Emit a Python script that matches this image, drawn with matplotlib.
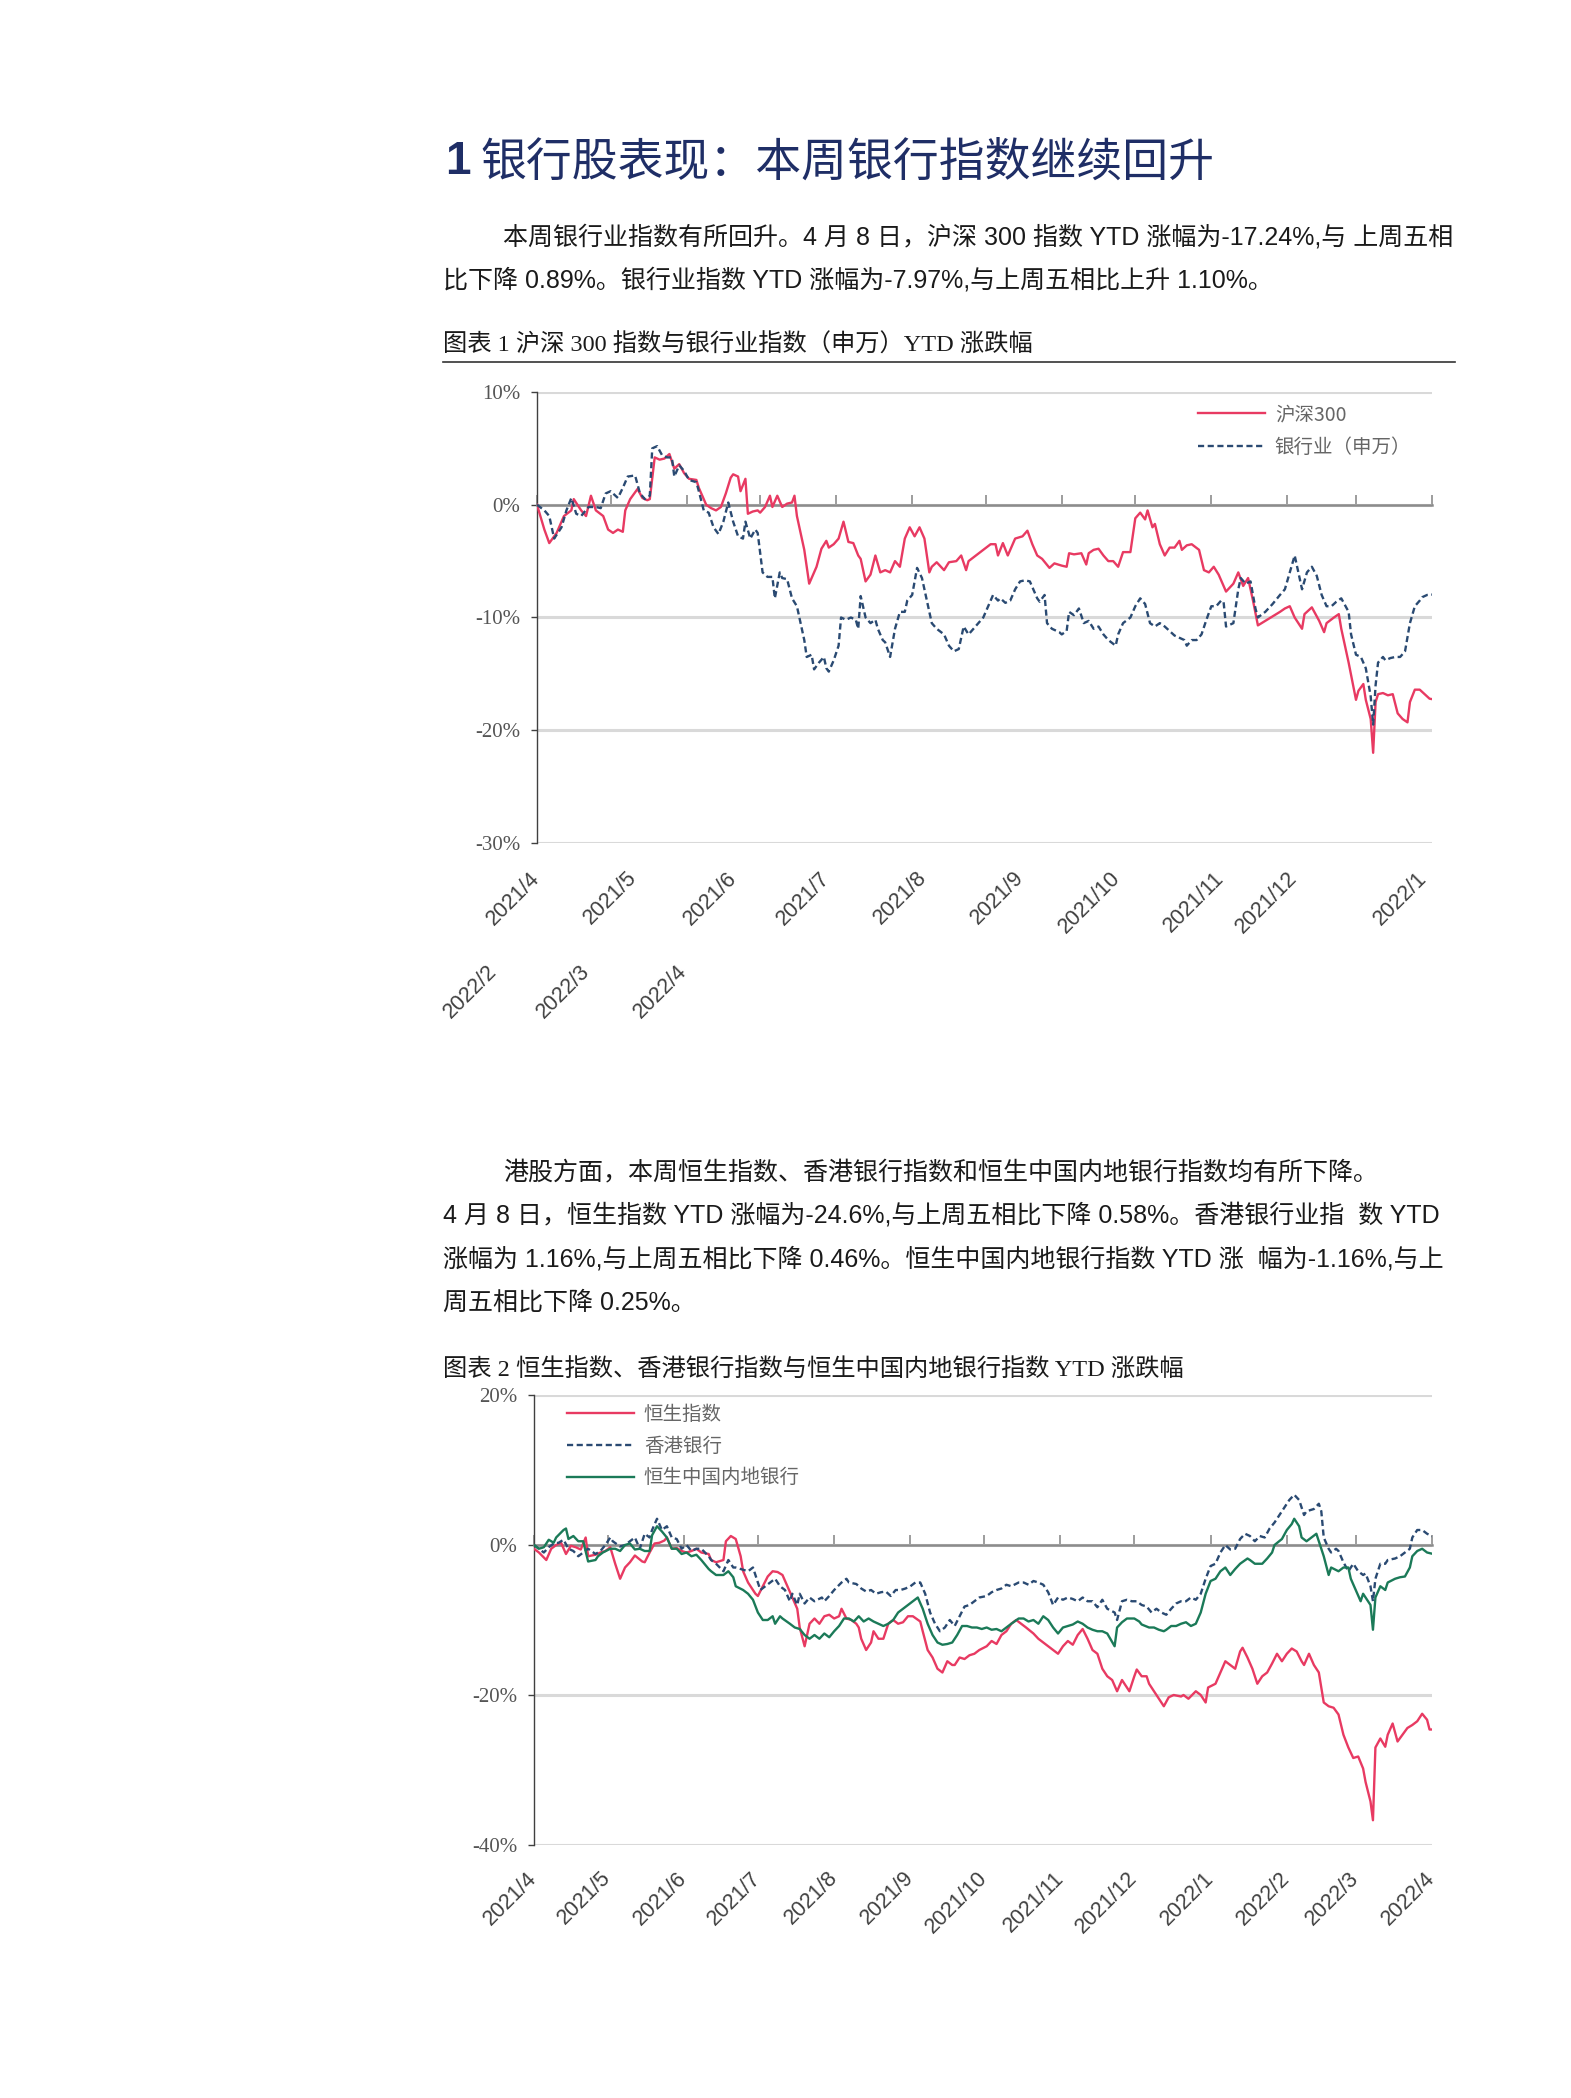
import matplotlib
matplotlib.use("Agg")
import matplotlib.pyplot as plt
import matplotlib.dates as mdates
from matplotlib.lines import Line2D
import pandas as pd

# ---- data: (days after 2021-04-08, YTD change in %) ----
start = pd.Timestamp("2021-04-08")

hs300 = [(0, 0.0), (3, -2.2), (5, -3.4), (8, -2.5), (11, -1.0), (14, -0.5), (15, 0.5), (18, -0.5), (20, -1.0), (22, 0.8),
         (24, -0.5), (27, -1.0), (29, -2.2), (31, -2.5), (33, -2.2), (35, -2.4), (36, -0.5), (38, 0.5), (41, 1.4), (43, 0.6),
         (45, 0.4), (46, 0.5), (48, 4.2), (50, 4.0), (52, 4.1), (54, 4.5), (56, 3.2), (58, 3.6), (60, 2.8), (62, 2.3),
         (65, 2.2), (66, 1.5), (69, 0.0), (71, -0.3), (73, -0.5), (75, -0.2), (77, 1.0), (79, 2.4), (80, 2.7), (82, 2.5),
         (83, 1.2), (85, 2.3), (86, -0.8), (88, -0.6), (90, -0.5), (91, -0.7), (93, -0.2), (95, 0.8), (96, -0.2), (98, 0.8),
         (100, -0.2), (102, 0.1), (104, 0.2), (105, 0.8), (106, -1.0), (109, -4.0), (111, -7.0), (113, -6.0), (114, -5.5),
         (116, -3.9), (118, -3.2), (119, -3.8), (121, -3.5), (123, -3.0), (125, -1.5), (127, -3.3), (129, -3.4), (131, -4.5),
         (132, -4.8), (134, -6.8), (136, -6.2), (138, -4.5), (140, -6.0), (142, -5.8), (144, -6.0), (146, -5.0), (148, -5.5),
         (150, -3.0), (152, -2.0), (154, -2.8), (156, -2.0), (158, -3.0), (160, -6.0), (161, -5.5), (163, -5.1), (166, -5.8),
         (168, -5.1), (171, -5.0), (173, -4.5), (175, -5.8), (176, -5.0), (179, -4.5), (182, -4.0), (185, -3.5), (187, -3.5),
         (188, -4.5), (190, -3.4), (192, -4.5), (193, -4.0), (195, -3.0), (198, -2.8), (200, -2.3), (202, -3.5), (204, -4.5),
         (206, -4.8), (209, -5.6), (211, -5.2), (214, -5.4), (216, -5.5), (217, -4.3), (219, -4.4), (222, -4.3), (224, -5.3),
         (225, -4.3), (227, -4.0), (229, -3.9), (231, -4.5), (233, -5.0), (235, -5.0), (237, -5.5), (239, -4.2), (242, -4.2),
         (244, -1.2), (246, -0.7), (248, -1.3), (249, -0.5), (251, -2.0), (252, -1.7), (254, -3.5), (256, -4.5), (258, -3.8),
         (260, -3.8), (262, -3.2), (263, -4.0), (265, -3.6), (267, -3.5), (270, -4.0), (272, -5.8), (274, -6.0), (276, -5.5),
         (278, -6.2), (280, -7.2), (281, -7.7), (284, -7.0), (286, -6.0), (288, -7.2), (290, -6.5), (292, -8.5), (294, -10.7),
         (297, -10.3), (300, -9.9), (303, -9.5), (305, -9.2), (307, -9.0), (309, -10.0), (312, -11.0), (313, -9.7), (316, -9.1),
         (319, -10.3), (321, -11.3), (322, -10.5), (325, -10.0), (327, -9.7), (328, -11.0), (331, -14.0), (334, -17.3),
         (335, -16.5), (337, -15.9), (338, -17.3), (340, -19.0), (341, -22.0), (342, -17.5), (343, -16.8), (345, -16.7),
         (347, -16.9), (349, -16.8), (351, -18.5), (353, -19.0), (355, -19.3), (356, -17.5), (358, -16.4), (360, -16.4),
         (361, -16.6), (364, -17.2), (365, -17.24)]

bank_sw = [(0, 0.0), (3, -0.5), (5, -1.0), (7, -3.0), (10, -2.0), (12, -0.5), (14, 0.6), (16, -0.8), (18, -1.0), (21, -0.2),
           (24, -0.2), (26, -0.3), (28, 1.0), (30, 1.2), (33, 0.6), (35, 1.5), (37, 2.5), (40, 2.6), (42, 1.0), (44, 0.5),
           (46, 0.8), (47, 5.0), (49, 5.2), (51, 4.4), (53, 4.2), (55, 4.2), (56, 2.5), (58, 3.5), (60, 3.0), (62, 2.2),
           (65, 2.0), (66, 1.2), (68, -0.5), (70, -0.7), (72, -2.0), (74, -2.6), (76, -1.5), (78, 0.2), (80, -1.5), (82, -2.8),
           (84, -3.0), (85, -1.5), (87, -3.0), (89, -2.2), (90, -2.5), (92, -6.0), (94, -6.4), (96, -6.4), (97, -8.3),
           (99, -6.0), (100, -6.5), (102, -6.6), (104, -8.3), (106, -9.0), (107, -10.0), (109, -12.0), (110, -13.5),
           (112, -13.3), (113, -14.6), (115, -14.0), (117, -13.5), (118, -14.5), (119, -14.8), (121, -13.8), (123, -12.5),
           (124, -10.0), (126, -10.2), (128, -10.0), (130, -10.2), (131, -11.0), (132, -8.1), (134, -10.0), (136, -10.5),
           (138, -10.2), (139, -11.0), (141, -12.0), (142, -12.2), (144, -13.5), (146, -11.0), (148, -9.5), (150, -9.5),
           (151, -8.5), (153, -8.0), (155, -5.6), (157, -6.5), (160, -9.5), (161, -10.5), (163, -11.0), (166, -11.5),
           (168, -12.5), (170, -13.0), (172, -12.8), (174, -10.8), (176, -11.5), (178, -11.0), (180, -10.5), (182, -10.0),
           (184, -9.0), (186, -8.0), (188, -8.5), (189, -8.3), (191, -8.7), (193, -8.5), (195, -7.5), (197, -6.8), (199, -6.7),
           (201, -6.8), (204, -8.3), (205, -8.6), (207, -8.0), (208, -10.5), (210, -11.0), (213, -11.3), (214, -11.5),
           (216, -11.2), (217, -9.5), (219, -9.8), (221, -9.2), (223, -10.5), (225, -10.3), (227, -11.0), (229, -10.8),
           (231, -11.5), (233, -12.0), (236, -12.5), (237, -11.5), (239, -10.5), (242, -10.0), (244, -9.0), (246, -8.3),
           (248, -8.8), (250, -10.5), (252, -10.8), (254, -10.5), (256, -10.8), (258, -11.2), (260, -11.6), (262, -11.8),
           (264, -12.0), (265, -12.5), (267, -12.0), (269, -12.0), (271, -11.5), (273, -10.2), (275, -9.0), (277, -9.0),
           (279, -8.5), (280, -8.6), (281, -10.8), (284, -10.5), (286, -7.5), (287, -6.5), (289, -7.0), (291, -6.8),
           (293, -9.2), (294, -10.0), (297, -9.5), (300, -8.8), (303, -8.0), (305, -7.5), (307, -6.0), (309, -4.5),
           (310, -5.5), (312, -7.5), (314, -6.0), (316, -5.5), (318, -6.3), (320, -8.0), (322, -9.0), (324, -9.0),
           (326, -8.6), (328, -8.3), (331, -9.5), (332, -11.5), (334, -13.3), (336, -13.5), (338, -14.5), (340, -17.0),
           (341, -19.5), (342, -16.0), (343, -14.0), (345, -13.5), (346, -13.8), (348, -13.6), (350, -13.5), (352, -13.5),
           (354, -13.0), (356, -10.5), (358, -9.0), (360, -8.5), (361, -8.2), (363, -8.0), (365, -7.97)]

hsi = [(0, -0.5), (2, -1.0), (5, -2.0), (7, -0.5), (9, 0.0), (11, 0.3), (13, -1.2), (15, -0.1), (17, -0.3), (19, -0.6),
       (21, 1.0), (22, -1.5), (25, -1.3), (27, -1.0), (29, -0.8), (31, -0.3), (33, -2.5), (35, -4.5), (37, -3.0), (39, -2.3),
       (41, -1.4), (44, -2.2), (45, -2.3), (47, -1.0), (49, 0.2), (51, 0.3), (53, 0.6), (54, 1.0), (56, -0.5), (58, -0.4),
       (60, -0.8), (62, -1.0), (64, -0.8), (66, -0.5), (68, -1.0), (71, -1.2), (72, -2.0), (74, -2.3), (77, -2.0), (78, 0.5),
       (80, 1.2), (82, 0.8), (84, -1.5), (85, -3.5), (87, -5.0), (90, -6.5), (91, -6.8), (93, -5.5), (95, -4.2), (97, -3.5),
       (99, -3.6), (101, -4.0), (103, -5.5), (105, -7.0), (107, -8.5), (108, -11.0), (110, -13.5), (112, -10.5), (114, -9.8),
       (116, -10.5), (118, -9.5), (120, -9.3), (122, -9.8), (124, -9.5), (125, -8.5), (127, -9.8), (129, -10.0),
       (131, -10.5), (132, -11.0), (133, -12.5), (135, -14.0), (137, -13.0), (138, -11.5), (140, -12.5), (142, -12.5),
       (144, -10.5), (146, -10.0), (148, -10.5), (150, -10.3), (152, -9.5), (154, -9.5), (157, -10.2), (158, -11.5),
       (160, -14.0), (162, -15.0), (164, -16.5), (166, -17.0), (168, -15.5), (170, -16.0), (171, -16.0), (173, -15.0),
       (175, -15.2), (177, -14.7), (179, -14.5), (181, -14.0), (184, -13.5), (186, -12.8), (188, -13.2), (190, -12.0),
       (192, -11.5), (194, -10.5), (196, -10.0), (198, -10.5), (200, -11.0), (203, -11.8), (205, -12.5), (207, -13.0),
       (209, -13.5), (211, -14.0), (213, -14.5), (215, -13.5), (217, -12.8), (219, -13.3), (221, -12.0), (223, -11.2),
       (225, -12.5), (227, -14.0), (229, -14.5), (231, -16.5), (233, -17.5), (235, -18.0), (237, -19.5), (239, -18.0),
       (240, -18.5), (242, -19.5), (244, -17.5), (245, -16.6), (247, -17.5), (249, -17.5), (250, -18.5), (252, -19.5),
       (254, -20.5), (256, -21.5), (258, -20.3), (260, -20.0), (263, -20.2), (264, -20.0), (266, -20.5), (269, -19.5),
       (271, -20.0), (273, -21.0), (274, -19.0), (277, -18.5), (279, -17.0), (281, -15.5), (283, -16.0), (285, -16.5),
       (287, -14.2), (288, -13.7), (290, -15.0), (292, -16.5), (294, -18.5), (296, -17.5), (298, -17.0), (300, -15.8),
       (302, -14.5), (304, -15.5), (306, -14.5), (308, -13.8), (310, -14.2), (312, -15.5), (313, -16.0), (315, -14.5),
       (317, -16.0), (319, -17.0), (321, -21.0), (323, -21.5), (325, -21.7), (327, -22.6), (329, -25.3), (331, -27.0),
       (333, -28.4), (335, -28.2), (337, -29.8), (338, -31.6), (340, -34.2), (341, -36.7), (342, -27.0), (344, -25.8),
       (346, -26.9), (347, -25.3), (349, -23.8), (351, -26.2), (353, -25.3), (355, -24.4), (357, -24.0), (359, -23.5),
       (361, -22.5), (363, -23.3), (364, -24.6), (365, -24.6)]

hk_bank = [(0, 0.0), (2, -0.5), (4, -1.0), (6, -0.3), (8, 0.2), (10, 0.3), (12, 0.7), (14, -0.5), (16, -0.8), (18, -1.5),
           (20, -1.0), (22, -0.5), (25, -1.2), (27, -0.8), (29, 0.0), (31, 1.0), (32, 0.5), (35, -0.2), (37, 0.0), (39, 0.5),
           (41, 1.0), (43, -0.5), (45, 1.5), (47, 1.0), (48, 2.0), (50, 3.5), (52, 2.0), (54, 2.5), (56, 1.0), (58, 0.8),
           (60, -0.5), (62, 0.0), (64, -0.8), (66, -0.5), (68, -0.5), (71, -1.5), (72, -2.0), (74, -2.5), (77, -3.5),
           (79, -2.0), (81, -3.0), (82, -3.0), (85, -3.3), (87, -3.5), (89, -3.0), (91, -5.0), (92, -6.0), (94, -5.5),
           (96, -5.0), (98, -4.5), (100, -5.5), (102, -6.0), (104, -7.5), (105, -6.5), (107, -8.0), (108, -6.5), (110, -7.8),
           (112, -7.0), (114, -7.5), (117, -7.0), (118, -7.5), (120, -6.8), (122, -6.0), (125, -5.0), (127, -4.5),
           (128, -5.0), (131, -5.2), (133, -5.8), (135, -6.2), (137, -6.0), (139, -6.5), (141, -6.3), (143, -6.2),
           (145, -6.8), (147, -6.0), (149, -6.0), (151, -5.8), (153, -5.5), (155, -5.0), (157, -5.0), (159, -6.5),
           (161, -9.0), (163, -10.5), (165, -11.5), (167, -11.0), (169, -10.0), (171, -10.8), (173, -9.5), (175, -8.2),
           (177, -8.0), (179, -7.5), (181, -7.0), (184, -6.8), (186, -6.3), (188, -6.0), (190, -5.8), (192, -5.3),
           (194, -5.5), (197, -5.0), (199, -5.0), (201, -5.3), (203, -4.8), (205, -5.0), (207, -5.3), (209, -6.3),
           (211, -8.0), (213, -7.0), (215, -7.3), (217, -7.0), (219, -7.2), (221, -7.5), (223, -7.0), (225, -7.5),
           (227, -7.5), (229, -8.3), (231, -7.3), (233, -8.5), (236, -9.0), (237, -10.0), (239, -7.5), (241, -7.3),
           (243, -7.5), (245, -7.5), (247, -8.0), (249, -8.2), (251, -9.0), (253, -8.5), (255, -9.0), (257, -9.3),
           (259, -8.5), (261, -7.8), (263, -7.5), (265, -7.5), (267, -7.0), (269, -7.3), (271, -6.5), (273, -4.5),
           (275, -2.8), (277, -2.5), (279, -1.0), (281, 0.0), (283, -0.6), (285, -0.5), (287, 0.8), (289, 1.5), (291, 1.2),
           (293, 0.5), (295, 1.2), (297, 1.0), (299, 2.2), (301, 3.0), (303, 4.0), (305, 5.0), (307, 6.0), (309, 6.7),
           (311, 6.0), (313, 4.0), (314, 4.5), (317, 4.8), (319, 5.5), (320, 4.5), (321, 1.0), (323, -0.5), (324, -1.0),
           (326, -0.5), (327, -0.8), (329, -2.3), (331, -3.5), (333, -2.5), (335, -3.5), (337, -4.0), (338, -3.8),
           (340, -5.5), (341, -7.5), (342, -4.5), (344, -2.5), (346, -2.5), (347, -2.0), (350, -1.8), (352, -1.5),
           (354, -1.0), (356, -0.5), (357, 1.0), (359, 2.0), (361, 2.0), (363, 1.5), (365, 1.16)]

hs_mainland_bank = [(0, 0.0), (2, -0.5), (4, -0.3), (6, 0.7), (8, 0.3), (9, 1.0), (12, 2.0), (13, 2.2), (14, 0.8), (16, 1.2),
                    (18, 0.5), (20, 0.5), (22, -2.2), (25, -2.0), (26, -1.5), (28, -1.0), (31, -0.5), (33, -0.5), (35, -0.8),
                    (37, 0.0), (39, 0.2), (41, -0.6), (43, -0.5), (45, -0.8), (47, -0.8), (48, 1.3), (50, 2.5), (52, 1.8),
                    (54, 1.0), (56, -0.5), (58, -0.5), (60, -1.2), (62, -1.0), (64, -1.5), (66, -1.3), (68, -2.0), (71, -3.2),
                    (72, -3.5), (74, -4.0), (77, -4.0), (79, -3.5), (81, -4.3), (82, -5.5), (85, -6.0), (87, -6.5), (89, -7.3),
                    (91, -9.0), (93, -10.0), (95, -10.0), (97, -9.5), (98, -10.5), (100, -9.5), (101, -9.8), (104, -10.5),
                    (106, -11.0), (108, -11.2), (110, -12.0), (112, -12.5), (114, -12.0), (116, -12.5), (118, -11.8),
                    (120, -12.3), (122, -11.5), (124, -10.8), (126, -9.8), (128, -9.8), (130, -10.2), (132, -9.5),
                    (134, -10.2), (136, -9.8), (138, -10.2), (140, -10.5), (142, -10.8), (144, -10.5), (146, -10.0),
                    (148, -9.0), (150, -8.5), (152, -8.0), (154, -7.5), (156, -7.0), (158, -8.5), (160, -10.5), (162, -12.0),
                    (164, -13.0), (166, -13.3), (168, -13.2), (170, -13.0), (172, -12.0), (174, -10.8), (176, -10.8),
                    (178, -11.0), (180, -11.0), (182, -11.2), (184, -11.0), (186, -11.3), (188, -11.2), (190, -11.5),
                    (192, -11.0), (194, -10.5), (197, -9.8), (199, -9.8), (201, -10.2), (203, -10.0), (205, -10.5),
                    (207, -9.5), (209, -10.0), (211, -11.0), (213, -11.8), (215, -11.0), (217, -10.8), (219, -10.6),
                    (221, -10.2), (223, -10.5), (225, -11.0), (227, -11.3), (229, -11.5), (231, -11.5), (233, -11.8),
                    (236, -13.5), (237, -11.0), (239, -10.3), (241, -9.8), (244, -9.8), (246, -10.2), (247, -10.6),
                    (250, -11.0), (252, -11.0), (254, -11.3), (256, -11.5), (257, -11.3), (259, -10.8), (261, -10.8),
                    (263, -10.5), (265, -10.3), (267, -10.8), (269, -10.5), (271, -9.0), (273, -6.5), (275, -4.8),
                    (277, -4.5), (279, -3.5), (281, -3.0), (283, -4.0), (285, -3.2), (287, -2.5), (290, -1.8), (291, -2.0),
                    (293, -2.5), (296, -2.5), (298, -1.8), (300, -1.0), (301, 0.0), (304, 0.8), (306, 2.0), (308, 2.8),
                    (309, 3.5), (311, 2.5), (312, 1.0), (314, 0.5), (316, 1.0), (318, 1.5), (319, 0.5), (321, -1.5),
                    (323, -4.0), (324, -3.0), (327, -3.5), (329, -3.0), (331, -3.0), (332, -4.5), (334, -6.0), (336, -7.5),
                    (337, -6.5), (339, -7.5), (340, -8.0), (341, -11.3), (342, -7.0), (344, -5.5), (346, -6.0), (347, -5.0),
                    (350, -4.5), (352, -4.3), (354, -4.2), (356, -3.0), (357, -1.5), (359, -0.8), (361, -0.5), (363, -1.0),
                    (365, -1.16)]

month_labels = ["2021/4", "2021/5", "2021/6", "2021/7", "2021/8", "2021/9", "2021/10",
                "2021/11", "2021/12", "2022/1", "2022/2", "2022/3", "2022/4"]

c1_ticks = [10, 0, -10, -20, -30]
c2_ticks = [20, 0, -20, -40]

# ---- page text ----
heading_num = "1"
heading = "银行股表现：本周银行指数继续回升"
para1 = ["本周银行业指数有所回升。4 月 8 日，沪深 300 指数 YTD 涨幅为-17.24%,与 上周五相",
         "比下降 0.89%。银行业指数 YTD 涨幅为-7.97%,与上周五相比上升 1.10%。"]
caption1 = "图表 1 沪深 300 指数与银行业指数（申万）YTD 涨跌幅"
para2 = ["港股方面，本周恒生指数、香港银行指数和恒生中国内地银行指数均有所下降。",
         "4 月 8 日，恒生指数 YTD 涨幅为-24.6%,与上周五相比下降 0.58%。香港银行业指  数 YTD",
         "涨幅为 1.16%,与上周五相比下降 0.46%。恒生中国内地银行指数 YTD 涨  幅为-1.16%,与上",
         "周五相比下降 0.25%。"]
caption2 = "图表 2 恒生指数、香港银行指数与恒生中国内地银行指数 YTD 涨跌幅"

RED = "#E83A62"
NAVY = "#2A4A72"
GREEN = "#1B7A58"
HEAD = "#1F2E66"
BODY_FONT = ["Liberation Sans", "Noto Sans CJK SC"]
CAP_FONT = ["Liberation Serif", "Noto Sans CJK SC"]
CJK = ["Noto Sans CJK SC", "DejaVu Sans"]

W, H = 1571, 2098
fig = plt.figure(figsize=(W / 100, H / 100), dpi=100)
fig.patch.set_facecolor("white")


def fx(x):
    return x / W


def fy(y):
    return 1 - y / H


def series(pairs):
    d = [start + pd.Timedelta(days=p[0]) for p in pairs]
    v = [p[1] for p in pairs]
    return d, v


# heading + paragraphs
fig.text(fx(445), fy(162), heading_num, fontsize=33, fontweight="bold", color=HEAD,
         family=["Liberation Sans"], va="center")
fig.text(fx(480), fy(162), heading, fontsize=33, color=HEAD, family=CJK, va="center")

for i, line in enumerate(para1):
    fig.text(fx(503 if i == 0 else 443), fy(237 + 43 * i), line, fontsize=18,
             color="#1a1a1a", family=BODY_FONT, va="center")

fig.text(fx(443), fy(345), caption1, fontsize=17.5, color="#1a1a1a", family=CAP_FONT, va="center")
fig.add_artist(Line2D([fx(443), fx(1455)], [fy(362), fy(362)], color="#333333", lw=1.2))

for i, line in enumerate(para2):
    fig.text(fx(503 if i == 0 else 443), fy(1172 + 43.5 * i), line, fontsize=18,
             color="#1a1a1a", family=BODY_FONT, va="center")

fig.text(fx(443), fy(1370), caption2, fontsize=17.5, color="#1a1a1a", family=CAP_FONT, va="center")


def style_axes(ax, ticks):
    months = [start + pd.DateOffset(months=k) for k in range(13)]
    ax.set_xlim(months[0], months[-1])
    ax.set_ylim(ticks[-1], ticks[0])
    ax.set_yticks(ticks)
    ax.set_yticklabels([f"{t}%" for t in ticks], family=["Liberation Serif"], fontsize=15, color="#555555")
    ax.tick_params(axis="y", length=4, width=1, color="#404040", pad=8)
    ax.set_xticks(months)
    ax.tick_params(axis="x", direction="in", length=7, width=1.2, color="#8c8c8c", labelbottom=False)
    ax.spines["top"].set_visible(False)
    ax.spines["right"].set_visible(False)
    ax.spines["left"].set_color("#404040")
    ax.spines["left"].set_linewidth(1.0)
    ax.spines["bottom"].set_position(("data", 0))
    ax.spines["bottom"].set_color("#8c8c8c")
    ax.spines["bottom"].set_linewidth(1.8)
    ax.grid(axis="y", color="#d9d9d9", lw=2.2)
    ax.set_axisbelow(True)
    ax.patch.set_alpha(0)
    return months


# ---- chart 1 ----
ax1 = fig.add_axes([fx(537), fy(843), (1432 - 537) / W, (843 - 392) / H])
months = style_axes(ax1, c1_ticks)
d, v = series(hs300)
ax1.plot(d, v, color=RED, lw=1.7, label="沪深300", zorder=3)
d, v = series(bank_sw)
ax1.plot(d, v, color=NAVY, lw=1.7, ls=(0, (2.6, 1.5)), label="银行业（申万）", zorder=3)
ax1.legend(loc="upper left", bbox_to_anchor=((1198 - 537) / 895, (843 - 404) / 451), frameon=False,
           prop={"family": CJK, "size": 14}, labelcolor="#666666", handlelength=3.45,
           handletextpad=0.5, labelspacing=0.62, borderpad=0, borderaxespad=0)

# the month labels of chart 1 wrap onto two rows in the source document
c1_label_pos = [(537, 875), (634, 875), (734, 875), (827, 875), (924, 875), (1021, 875), (1117, 875),
                (1221, 875), (1294, 875), (1424, 875), (494, 968), (587, 968), (684, 968)]
for lab, (x, y) in zip(month_labels, c1_label_pos):
    fig.text(fx(x), fy(y), lab, rotation=45, ha="right", va="center", rotation_mode="anchor",
             fontsize=15.5, color="#404040", family=["Liberation Sans"])

# ---- chart 2 ----
ax2 = fig.add_axes([fx(534), fy(1845), (1432 - 534) / W, (1845 - 1395) / H])
months = style_axes(ax2, c2_ticks)
d, v = series(hsi)
ax2.plot(d, v, color=RED, lw=1.7, label="恒生指数", zorder=3)
d, v = series(hk_bank)
ax2.plot(d, v, color=NAVY, lw=1.7, ls=(0, (2.6, 1.5)), label="香港银行", zorder=3)
d, v = series(hs_mainland_bank)
ax2.plot(d, v, color=GREEN, lw=1.7, label="恒生中国内地银行", zorder=3)
ax2.legend(loc="upper left", bbox_to_anchor=((567 - 534) / 898, (1845 - 1404) / 450), frameon=False,
           prop={"family": CJK, "size": 14}, labelcolor="#666666", handlelength=3.45,
           handletextpad=0.5, labelspacing=0.55, borderpad=0, borderaxespad=0)

for lab, m in zip(month_labels, months):
    ax2.annotate(lab, xy=(mdates.date2num(m), 0), xycoords=("data", "axes fraction"),
                 xytext=(0, -30), textcoords="offset pixels", rotation=45, ha="right", va="center",
                 rotation_mode="anchor", fontsize=15.5, color="#404040", family=["Liberation Sans"])

fig.savefig("out.png", dpi=100, facecolor="white")
